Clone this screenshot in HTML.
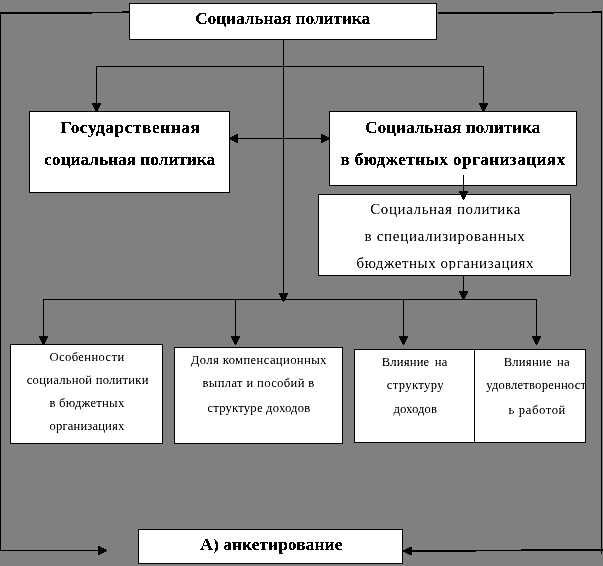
<!DOCTYPE html>
<html lang="ru">
<head>
<meta charset="utf-8">
<title>Социальная политика</title>
<style>
html,body{margin:0;padding:0;}
body{width:603px;height:566px;background:#808080;position:relative;overflow:hidden;font-family:"Liberation Serif",serif;color:#000;}
#lines{position:absolute;left:0;top:0;width:603px;height:566px;}
.box{position:absolute;background:#fff;border:1px solid #000;box-sizing:border-box;overflow:hidden;}
.t{position:absolute;left:0;right:0;text-align:center;white-space:pre;line-height:20px;height:20px;}
.b{font-weight:bold;font-size:17.33px;filter:url(#bw);}
.m{font-size:15px;filter:url(#bw2);}
.s{font-size:12.67px;filter:url(#bw2);}
</style>
</head>
<body>
<svg width="0" height="0" style="position:absolute"><defs><filter id="bw" x="0" y="0" width="100%" height="100%" color-interpolation-filters="sRGB"><feComponentTransfer><feFuncA type="discrete" tableValues="0 0 1 1 1"/></feComponentTransfer></filter><filter id="bw2" x="0" y="0" width="100%" height="100%" color-interpolation-filters="sRGB"><feComponentTransfer><feFuncA type="table" tableValues="0 0.2 0.85 1"/></feComponentTransfer></filter></defs></svg>
<svg id="lines" width="603" height="566" viewBox="0 0 603 566" shape-rendering="crispEdges" fill="#000">
  <!-- outer frame: left -->
  <rect x="0" y="12" width="1" height="539"/>
  <rect x="0" y="12" width="92" height="2"/>
  <rect x="92" y="12" width="30" height="1"/>
  <rect x="122" y="11" width="7" height="2"/>
  <!-- outer frame: right -->
  <rect x="438" y="12" width="116" height="2"/>
  <rect x="554" y="12" width="38" height="1"/>
  <rect x="592" y="11" width="10" height="2"/>
  <rect x="601" y="11" width="1" height="543"/>
  <!-- bottom left arrow -->
  <rect x="0" y="550" width="99" height="1"/>
  <!-- bottom right arrow -->
  <rect x="410" y="550" width="66" height="2"/>
  <rect x="476" y="550" width="45" height="1"/>
  <rect x="521" y="549" width="82" height="2"/>
  <!-- centre trunk -->
  <rect x="283" y="39" width="1" height="256"/>
  <!-- upper branch -->
  <rect x="96" y="66" width="388" height="1"/>
  <rect x="96" y="66" width="1" height="38"/>
  <rect x="483" y="66" width="1" height="38"/>
  <!-- double arrow between big boxes -->
  <rect x="237" y="138" width="85" height="1"/>
  <!-- lower branch -->
  <rect x="43" y="299" width="494" height="1"/>
  <rect x="43" y="299" width="1" height="38"/>
  <rect x="235" y="299" width="1" height="38"/>
  <rect x="403" y="299" width="1" height="38"/>
  <rect x="536" y="299" width="1" height="38"/>
  <!-- spec box to lower branch -->
  <rect x="463" y="275" width="1" height="18"/>
  <!-- arrowheads -->
  <path d="M92 103h9v1h-9zM92 104h9v1h-9zM93 105h7v1h-7zM93 106h7v1h-7zM94 107h5v1h-5zM94 108h5v1h-5zM95 109h3v1h-3zM95 110h3v1h-3zM96 111h1v1h-1zM479 103h9v1h-9zM479 104h9v1h-9zM480 105h7v1h-7zM480 106h7v1h-7zM481 107h5v1h-5zM481 108h5v1h-5zM482 109h3v1h-3zM482 110h3v1h-3zM483 111h1v1h-1zM279 293h9v1h-9zM279 294h9v1h-9zM280 295h7v1h-7zM280 296h7v1h-7zM281 297h5v1h-5zM281 298h5v1h-5zM282 299h3v1h-3zM282 300h3v1h-3zM283 301h1v1h-1zM39 336h9v1h-9zM39 337h9v1h-9zM40 338h7v1h-7zM40 339h7v1h-7zM41 340h5v1h-5zM41 341h5v1h-5zM42 342h3v1h-3zM42 343h3v1h-3zM43 344h1v1h-1zM231 336h9v1h-9zM231 337h9v1h-9zM232 338h7v1h-7zM232 339h7v1h-7zM233 340h5v1h-5zM233 341h5v1h-5zM234 342h3v1h-3zM234 343h3v1h-3zM235 344h1v1h-1zM399 336h9v1h-9zM399 337h9v1h-9zM400 338h7v1h-7zM400 339h7v1h-7zM401 340h5v1h-5zM401 341h5v1h-5zM402 342h3v1h-3zM402 343h3v1h-3zM403 344h1v1h-1zM532 336h9v1h-9zM532 337h9v1h-9zM533 338h7v1h-7zM533 339h7v1h-7zM534 340h5v1h-5zM534 341h5v1h-5zM535 342h3v1h-3zM535 343h3v1h-3zM536 344h1v1h-1zM459 291h9v1h-9zM459 292h9v1h-9zM460 293h7v1h-7zM460 294h7v1h-7zM461 295h5v1h-5zM461 296h5v1h-5zM462 297h3v1h-3zM462 298h3v1h-3zM463 299h1v1h-1zM237 134v9h1v-9zM236 134v9h1v-9zM235 135v7h1v-7zM234 135v7h1v-7zM233 136v5h1v-5zM232 136v5h1v-5zM231 137v3h1v-3zM230 137v3h1v-3zM229 138v1h1v-1zM321 134v9h1v-9zM322 134v9h1v-9zM323 135v7h1v-7zM324 135v7h1v-7zM325 136v5h1v-5zM326 136v5h1v-5zM327 137v3h1v-3zM328 137v3h1v-3zM329 138v1h1v-1zM98 546v9h1v-9zM99 546v9h1v-9zM100 547v7h1v-7zM101 547v7h1v-7zM102 548v5h1v-5zM103 548v5h1v-5zM104 549v3h1v-3zM105 549v3h1v-3zM106 550v1h1v-1zM409 547h3v8h-3zM407 548h2v6h-2zM405 549h2v4h-2zM403 550h2v2h-2z"/>
</svg>

<!-- top box -->
<div class="box" style="left:129px;top:3px;width:308px;height:37px;">
  <div class="t b" style="top:4.6px;left:-0.7px;letter-spacing:-0.07px;text-indent:-0.07px;">Социальная политика</div>
</div>

<!-- state social policy -->
<div class="box" style="left:29px;top:111px;width:201px;height:82px;">
  <div class="t b" style="top:5.75px;left:2px;letter-spacing:0.55px;">Государственная</div>
  <div class="t b" style="top:37.6px;left:0.5px;letter-spacing:-0.035px;text-indent:-0.035px;">социальная политика</div>
</div>

<!-- social policy in budget orgs -->
<div class="box" style="left:329px;top:111px;width:248px;height:75px;">
  <div class="t b" style="top:5.75px;left:-0.7px;letter-spacing:-0.04px;text-indent:-0.04px;">Социальная политика</div>
  <div class="t b" style="top:37.6px;left:-0.3px;letter-spacing:0.34px;text-indent:0.34px;">в бюджетных организациях</div>
</div>

<!-- specialised -->
<div class="box" style="left:318px;top:194px;width:253px;height:82px;">
  <div style="position:absolute;left:0;top:0;right:0;height:75px;overflow:hidden;">
    <div class="t m" style="top:3.9px;left:1.5px;letter-spacing:0.61px;text-indent:0.61px;">Социальная политика</div>
    <div class="t m" style="top:31.1px;left:0.3px;letter-spacing:0.725px;text-indent:0.725px;">в специализированных</div>
    <div class="t m" style="top:58.3px;left:1.1px;letter-spacing:0.55px;text-indent:0.55px;">бюджетных организациях</div>
  </div>
</div>

<!-- small arrow from budget box into spec box (drawn above boxes) -->
<svg style="position:absolute;left:0;top:0;" width="603" height="566" viewBox="0 0 603 566" shape-rendering="crispEdges" fill="#000">
  <rect x="463" y="175" width="1" height="18"/>
  <path d="M459 191h9v1h-9zM459 192h9v1h-9zM460 193h7v1h-7zM460 194h7v1h-7zM461 195h5v1h-5zM461 196h5v1h-5zM462 197h3v1h-3zM462 198h3v1h-3zM463 199h1v1h-1z"/>
</svg>

<!-- bottom row -->
<div class="box" style="left:10px;top:344px;width:153px;height:100px;">
  <div class="t s" style="top:1.7px;left:0.8px;letter-spacing:0.36px;text-indent:0.36px;">Особенности</div>
  <div class="t s" style="top:24.7px;left:2.3px;letter-spacing:0.23px;text-indent:0.23px;">социальной политики</div>
  <div class="t s" style="top:47.7px;left:0.7px;letter-spacing:0.26px;text-indent:0.26px;">в бюджетных</div>
  <div class="t s" style="top:70.7px;left:0.8px;letter-spacing:0.14px;text-indent:0.14px;">организациях</div>
</div>

<div class="box" style="left:174px;top:347px;width:169px;height:97px;">
  <div class="t s" style="top:1.5px;left:0.2px;letter-spacing:0.37px;text-indent:0.37px;">Доля компенсационных</div>
  <div class="t s" style="top:24.5px;left:-0.2px;letter-spacing:0.335px;text-indent:0.335px;">выплат и пособий в</div>
  <div class="t s" style="top:49.7px;left:0.8px;letter-spacing:0.195px;text-indent:0.195px;">структуре доходов</div>
</div>

<div class="box" style="left:354px;top:349px;width:121px;height:94px;">
  <div class="t s" style="top:2.1px;left:0px;letter-spacing:0.16px;text-indent:0.16px;word-spacing:2px;">Влияние на</div>
  <div class="t s" style="top:24.6px;left:1.4px;letter-spacing:0.37px;text-indent:0.37px;">структуру</div>
  <div class="t s" style="top:49.3px;left:1.4px;letter-spacing:0.09px;text-indent:0.09px;">доходов</div>
</div>

<div class="box" style="left:474px;top:349px;width:112px;height:94px;">
  <div class="t s" style="top:2.2px;left:-0.2px;width:124px;right:auto;letter-spacing:0.22px;word-spacing:2px;">Влияние на</div>
  <div class="t s" style="top:24.6px;left:-0.8px;width:124px;right:auto;letter-spacing:0.18px;">удовлетворенност</div>
  <div class="t s" style="top:49.6px;left:0.3px;width:124px;right:auto;letter-spacing:0.6px;">ь работой</div>
</div>

<!-- bottom box -->
<div class="box" style="left:138px;top:529px;width:265px;height:35px;">
  <div class="t b" style="top:5.1px;left:1.6px;letter-spacing:0.1px;text-indent:0.1px;">А) анкетирование</div>
</div>
</body>
</html>
